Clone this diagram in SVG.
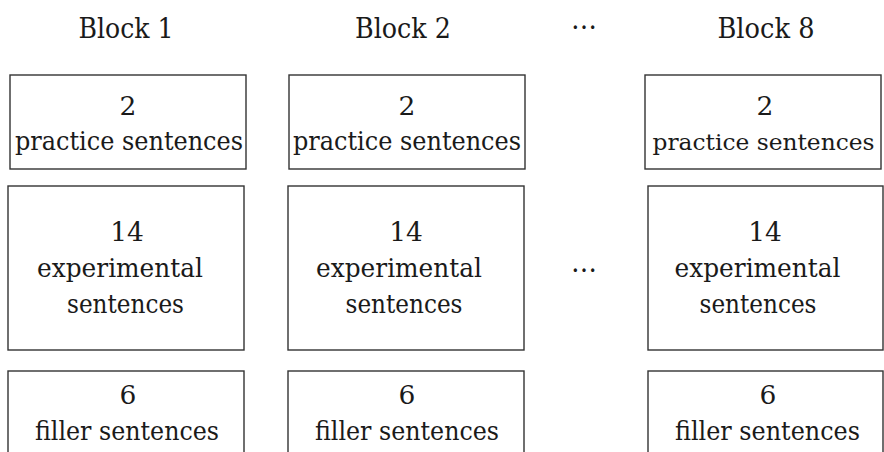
<svg xmlns="http://www.w3.org/2000/svg" width="884" height="452" viewBox="0 0 884 452">
<style>
.box{fill:#fff;stroke:#333;stroke-width:1.4}
.t{font-family:'DejaVu Serif','Liberation Serif',serif;font-size:26.5px;fill:#1a1a1a;text-anchor:middle}
.h{font-family:'DejaVu Serif','Liberation Serif',serif;font-size:28px;fill:#1a1a1a;text-anchor:middle}
</style>
<rect width="884" height="452" fill="#fff"/>
<g id="headers">
<text class="h" x="126" y="38" textLength="95" lengthAdjust="spacingAndGlyphs">Block 1</text>
<text class="h" x="403" y="38" textLength="96" lengthAdjust="spacingAndGlyphs">Block 2</text>
<text class="h" x="584" y="29" textLength="26" lengthAdjust="spacingAndGlyphs">…</text>
<text class="h" x="766" y="38" textLength="97" lengthAdjust="spacingAndGlyphs">Block 8</text>
</g>
<g id="b1-practice">
<rect class="box" x="10" y="75" width="236" height="94"/>
<text class="t" x="128" y="115">2</text>
<text class="t" x="129" y="150" textLength="228" lengthAdjust="spacingAndGlyphs">practice sentences</text>
</g>
<g id="b2-practice">
<rect class="box" x="289" y="75" width="236" height="94"/>
<text class="t" x="407" y="115">2</text>
<text class="t" x="407" y="150" textLength="228" lengthAdjust="spacingAndGlyphs">practice sentences</text>
</g>
<g id="b8-practice">
<rect class="box" x="645" y="75" width="236" height="94"/>
<text class="t" x="765" y="115">2</text>
<text class="t" x="763.5" y="150" style="font-size:23px" textLength="222" lengthAdjust="spacingAndGlyphs">practice sentences</text>
</g>
<g id="b1-experimental">
<rect class="box" x="8" y="186" width="236" height="164"/>
<text class="t" x="127" y="241">14</text>
<text class="t" x="120" y="277" textLength="166" lengthAdjust="spacingAndGlyphs">experimental</text>
<text class="t" x="125.5" y="313" textLength="117" lengthAdjust="spacingAndGlyphs">sentences</text>
</g>
<g id="b2-experimental">
<rect class="box" x="288" y="186" width="236" height="164"/>
<text class="t" x="406" y="241">14</text>
<text class="t" x="399" y="277" textLength="166" lengthAdjust="spacingAndGlyphs">experimental</text>
<text class="t" x="404" y="313" textLength="117" lengthAdjust="spacingAndGlyphs">sentences</text>
</g>
<g id="dots-mid">
<text class="h" x="584" y="272" textLength="26" lengthAdjust="spacingAndGlyphs">…</text>
</g>
<g id="b8-experimental">
<rect class="box" x="648" y="186" width="235" height="164"/>
<text class="t" x="765" y="241">14</text>
<text class="t" x="757.5" y="277" textLength="166" lengthAdjust="spacingAndGlyphs">experimental</text>
<text class="t" x="758" y="313" textLength="117" lengthAdjust="spacingAndGlyphs">sentences</text>
</g>
<g id="b1-filler">
<rect class="box" x="8" y="371" width="236" height="100"/>
<text class="t" x="128" y="404">6</text>
<text class="t" x="127" y="440" textLength="184" lengthAdjust="spacingAndGlyphs">filler sentences</text>
</g>
<g id="b2-filler">
<rect class="box" x="288" y="371" width="236" height="100"/>
<text class="t" x="407" y="404">6</text>
<text class="t" x="407" y="440" textLength="184" lengthAdjust="spacingAndGlyphs">filler sentences</text>
</g>
<g id="b8-filler">
<rect class="box" x="648" y="371" width="235" height="100"/>
<text class="t" x="768" y="404">6</text>
<text class="t" x="767.5" y="440" textLength="185" lengthAdjust="spacingAndGlyphs">filler sentences</text>
</g>
<g id="connectors"></g>
</svg>
